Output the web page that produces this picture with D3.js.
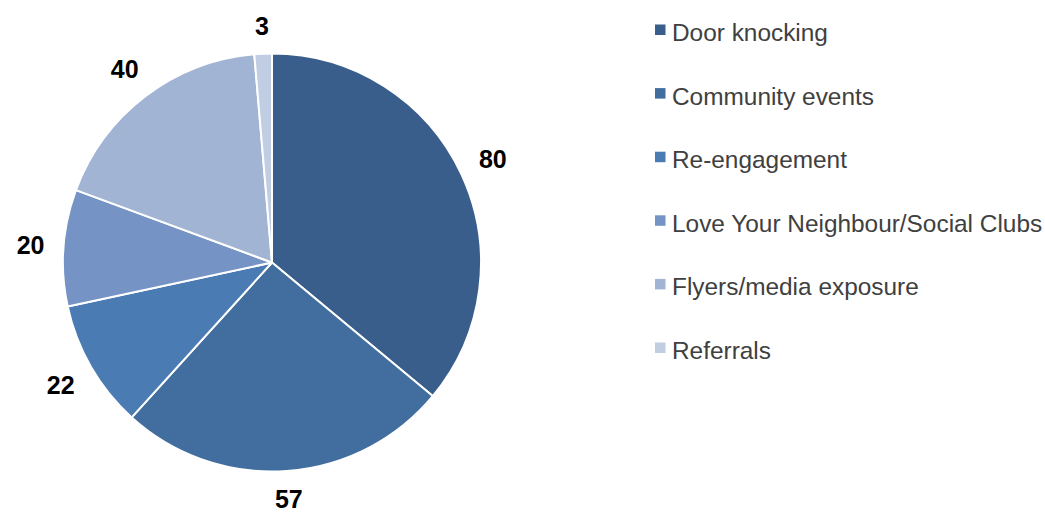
<!DOCTYPE html>
<html>
<head>
<meta charset="utf-8">
<script src="https://cdn.jsdelivr.net/npm/d3@7"></script>
<style>
  html, body { margin: 0; padding: 0; background: #ffffff; }
  svg { display: block; }
</style>
</head>
<body>
<svg id="chart" width="1045" height="512"></svg>
<script>
// Sources of contact, drawn clockwise from 12 o'clock
const categories = [
  "Door knocking",
  "Community events",
  "Re-engagement",
  "Love Your Neighbour/Social Clubs",
  "Flyers/media exposure",
  "Referrals"
];
const counts = [80, 57, 22, 20, 40, 3];
const colours = ["#3a5e8c", "#426e9f", "#4a7bb3", "#7594c5", "#a2b4d4", "#c0cde3"];

const svg = d3.select("#chart");
const cx = 272, cy = 262.5, radius = 209;

const data = categories.map((name, i) => ({ name, value: counts[i], colour: colours[i] }));

const pie = d3.pie().value(d => d.value).sort(null);
const arc = d3.arc().innerRadius(0).outerRadius(radius);
const arcs = pie(data);

const g = svg.append("g").attr("transform", `translate(${cx},${cy})`);

g.selectAll("path.slice")
  .data(arcs)
  .join("path")
  .attr("class", "slice")
  .attr("d", arc)
  .attr("fill", d => d.data.colour)
  .attr("stroke", "#ffffff")
  .attr("stroke-width", 2)
  .attr("stroke-linejoin", "round");

// Value labels sit just outside the rim, pushed out by their own box size
const labelFont = 25, capHalf = 9, gap = 18.5;
const labels = g.selectAll("text.value")
  .data(arcs)
  .join("text")
  .attr("class", "value")
  .attr("font-family", "'Liberation Sans', Arial, Helvetica, sans-serif")
  .attr("font-weight", "bold")
  .attr("font-size", labelFont)
  .attr("fill", "#000000")
  .attr("text-anchor", "middle")
  .text(d => d.data.value);

labels.each(function (d) {
  const a = (d.startAngle + d.endAngle) / 2;
  const s = Math.sin(a), c = -Math.cos(a);
  const halfW = this.getComputedTextLength() / 2;
  const dist = radius + gap + Math.abs(s) * halfW + Math.abs(c) * capHalf;
  d3.select(this)
    .attr("x", s * dist)
    .attr("y", c * dist + capHalf);
});

// Legend
const legend = svg.append("g").attr("transform", "translate(655,0)");
const rowY = d3.scalePoint().domain(categories).range([30, 348]);

const rows = legend.selectAll("g.row")
  .data(data)
  .join("g")
  .attr("class", "row")
  .attr("transform", d => `translate(0,${rowY(d.name)})`);

rows.append("rect")
  .attr("x", 0)
  .attr("y", -5.5)
  .attr("width", 10.5)
  .attr("height", 10.5)
  .attr("fill", d => d.colour);

rows.append("text")
  .attr("x", 17)
  .attr("y", 11)
  .attr("font-family", "'Liberation Sans', Arial, Helvetica, sans-serif")
  .attr("font-size", 24.4)
  .attr("fill", "#404040")
  .text(d => d.name);
</script>
</body>
</html>
